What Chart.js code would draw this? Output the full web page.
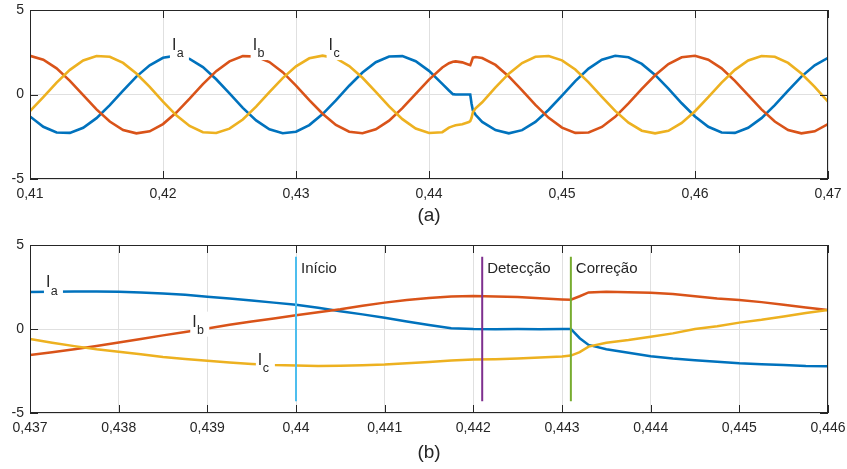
<!DOCTYPE html>
<html>
<head>
<meta charset="utf-8">
<script src="https://cdn.jsdelivr.net/npm/chart.js@4.4.1/dist/chart.umd.min.js"></script>
<style>
  body { margin: 0; background: #fff; }
  #wrap { position: relative; width: 847px; height: 469px; }
  #topChart { position: absolute; left: 0; top: 0; }
  #zoomChart { position: absolute; left: 0; top: 232px; }
</style>
</head>
<body>
<div id="wrap">
  <canvas id="topChart" width="847" height="232"></canvas>
  <canvas id="zoomChart" width="847" height="237"></canvas>
</div>
<script>
// (a) full window, 0.41 .. 0.47 s
const topTime = [
  0.410, 0.411, 0.412, 0.413, 0.414, 0.415, 0.416, 0.417, 0.418, 0.419,
  0.420, 0.421, 0.422, 0.423, 0.424, 0.425, 0.426, 0.427, 0.428, 0.429,
  0.430, 0.431, 0.432, 0.433, 0.434, 0.435, 0.436, 0.437, 0.438, 0.439,
  0.440, 0.441,
  0.4415, 0.4418, 0.442, 0.4425, 0.443, 0.4431, 0.4432, 0.4433, 0.4435, 0.444,
  0.445, 0.446, 0.447, 0.448, 0.449,
  0.450, 0.451, 0.452, 0.453, 0.454, 0.455, 0.456, 0.457, 0.458, 0.459,
  0.460, 0.461, 0.462, 0.463, 0.464, 0.465, 0.466, 0.467, 0.468, 0.469, 0.470
];
const topIa = [
  -1.30, -1.91, -2.25, -2.27, -1.97, -1.40, -0.63, 0.23, 1.06, 1.73,
  2.17, 2.30, 2.11, 1.62, 0.90, 0.06, -0.79, -1.53, -2.06, -2.29,
  -2.20, -1.81, -1.16, -0.35, 0.52, 1.30, 1.91, 2.25, 2.27, 1.97,
  1.40, 0.63,
  0.24, 0.02, 0.00, 0.00, 0.00, 0.00, -0.55, -0.95, -1.20, -1.62,
  -2.10, -2.30, -2.11, -1.62, -0.90,
  -0.06, 0.79, 1.53, 2.06, 2.29, 2.20, 1.81, 1.16, 0.35, -0.52,
  -1.30, -1.91, -2.25, -2.27, -1.97, -1.40, -0.63, 0.23, 1.06, 1.73, 2.17
];
const topIb = [
  2.29, 2.06, 1.55, 0.81, -0.04, -0.88, -1.60, -2.10, -2.30, -2.18,
  -1.75, -1.07, -0.25, 0.61, 1.38, 1.96, 2.27, 2.25, 1.92, 1.32,
  0.53, -0.33, -1.14, -1.80, -2.20, -2.29, -2.06, -1.55, -0.81, 0.04,
  0.88, 1.60,
  1.85, 1.94, 1.96, 1.90, 1.76, 1.74, 1.95, 2.18, 2.22, 2.16,
  1.75, 1.07, 0.25, -0.61, -1.38,
  -1.96, -2.27, -2.25, -1.92, -1.32, -0.53, 0.33, 1.14, 1.80, 2.20,
  2.29, 2.06, 1.55, 0.81, -0.04, -0.88, -1.60, -2.10, -2.30, -2.18, -1.75
];
const topIc = [
  -0.99, -0.15, 0.70, 1.46, 2.01, 2.28, 2.23, 1.87, 1.24, 0.45,
  -0.42, -1.23, -1.86, -2.23, -2.28, -2.02, -1.48, -0.72, 0.14, 0.97,
  1.67, 2.14, 2.30, 2.15, 1.68, 0.99, 0.15, -0.70, -1.46, -2.01,
  -2.28, -2.23,
  -1.96, -1.87, -1.82, -1.76, -1.63, -1.58, -1.38, -1.05, -0.82, -0.46,
  0.42, 1.23, 1.86, 2.23, 2.28,
  2.02, 1.48, 0.72, -0.14, -0.97, -1.67, -2.14, -2.30, -2.15, -1.68,
  -0.99, -0.15, 0.70, 1.46, 2.01, 2.28, 2.23, 1.87, 1.24, 0.45, -0.42
];
const topTicks = [0.41, 0.42, 0.43, 0.44, 0.45, 0.46, 0.47];

// (b) zoom around the fault, 0.437 .. 0.446 s
const zoomTime = [
  0.437, 0.43725, 0.4375, 0.43775, 0.438, 0.43825, 0.4385, 0.43875, 0.439, 0.43925,
  0.4395, 0.43975, 0.440, 0.44025, 0.4405, 0.44075, 0.441, 0.44125, 0.4415, 0.44175,
  0.442, 0.44225, 0.4425, 0.44275, 0.443,
  0.4431, 0.4432, 0.4433, 0.4435,
  0.44375, 0.444, 0.44425, 0.4445, 0.44475, 0.445, 0.44525, 0.4455, 0.44575, 0.446
];
const zoomIa = [
  2.20, 2.22, 2.23, 2.23, 2.22, 2.18, 2.12, 2.04, 1.92, 1.82,
  1.70, 1.57, 1.44, 1.26, 1.06, 0.87, 0.67, 0.45, 0.24, 0.04,
  0.00, -0.01, 0.00, -0.01, 0.00,
  0.00, -0.55, -0.95, -1.20,
  -1.42, -1.62, -1.76, -1.86, -1.95, -2.04, -2.10, -2.15, -2.20, -2.22
];
const zoomIb = [
  -1.55, -1.38, -1.20, -1.01, -0.81, -0.60, -0.38, -0.18, 0.03, 0.25,
  0.45, 0.63, 0.82, 1.00, 1.17, 1.38, 1.57, 1.72, 1.85, 1.94,
  1.96, 1.93, 1.90, 1.83, 1.76,
  1.74, 1.95, 2.18, 2.22,
  2.19, 2.16, 2.08, 1.95, 1.82, 1.73, 1.60, 1.45, 1.28, 1.13
];
const zoomIc = [
  -0.60, -0.82, -1.02, -1.20, -1.35, -1.50, -1.66, -1.78, -1.89, -1.99,
  -2.08, -2.15, -2.18, -2.20, -2.19, -2.16, -2.12, -2.04, -1.96, -1.87,
  -1.82, -1.80, -1.76, -1.70, -1.63,
  -1.58, -1.38, -1.05, -0.82,
  -0.66, -0.46, -0.26, 0.00, 0.16, 0.38, 0.55, 0.75, 0.95, 1.13
];
const zoomTicks = [0.437, 0.438, 0.439, 0.440, 0.441, 0.442, 0.443, 0.444, 0.445, 0.446];

// event markers in (b)
const eventTimes = [0.440, 0.4421, 0.4431];
const eventNames = ['Início', 'Detecção', 'Correção'];
const eventSpan = [-4.3, 4.3];

const yTicks = [-5, 0, 5];
const phaseNames = ['a', 'b', 'c'];

const FONT = '"Liberation Sans", Arial, Helvetica, sans-serif';
const INK = '#262626';
const phaseColors = ['#0072BD', '#D95319', '#EDB120'];
const eventColors = ['#4DBEEE', '#7E2F8E', '#77AC30'];

Chart.defaults.font.family = FONT;
Chart.defaults.color = INK;

function toPoints(xs, ys) {
  return xs.map((x, i) => ({ x: x, y: ys[i] }));
}

function phaseSets(xs, series, width) {
  return series.map((ys, i) => ({
    label: 'I' + phaseNames[i],
    data: toPoints(xs, ys),
    borderColor: phaseColors[i],
    borderWidth: width,
    pointRadius: 0,
    tension: 0,
    order: 3 - i
  }));
}

function fmtTick(v) {
  return String(Number(v.toFixed(3))).replace('.', ',');
}

// draws phase labels, event labels, the axes box with inward ticks and the caption
const decor = {
  id: 'decor',
  afterDatasetsDraw(chart, args, opts) {
    const ctx = chart.ctx;
    const a = chart.chartArea;
    const xs = chart.scales.x;
    const ys = chart.scales.y;
    ctx.save();

    (opts.labels || []).forEach((l) => {
      const px = xs.getPixelForValue(l.x);
      const py = ys.getPixelForValue(l.y);
      ctx.fillStyle = '#fff';
      ctx.fillRect(px - 2, py - 15, 19, 25);
      ctx.fillStyle = INK;
      ctx.textAlign = 'left';
      ctx.textBaseline = 'alphabetic';
      ctx.font = '16px ' + FONT;
      ctx.fillText('I', px, py);
      ctx.font = '12.5px ' + FONT;
      ctx.fillText(l.sub, px + 4.8, py + 7.3);
    });

    (opts.events || []).forEach((e) => {
      const px = xs.getPixelForValue(e.x);
      const py = ys.getPixelForValue(e.y);
      ctx.fillStyle = INK;
      ctx.textAlign = 'left';
      ctx.textBaseline = 'alphabetic';
      ctx.font = '15px ' + FONT;
      ctx.fillText(e.text, px + 5, py);
    });

    ctx.strokeStyle = INK;
    ctx.lineWidth = 1;
    ctx.strokeRect(a.left + 0.5, a.top + 0.5, a.right - a.left - 1, a.bottom - a.top - 1);
    ctx.beginPath();
    xs.ticks.forEach((t) => {
      const p = Math.round(xs.getPixelForValue(t.value)) + 0.5;
      ctx.moveTo(p, a.top); ctx.lineTo(p, a.top + 8);
      ctx.moveTo(p, a.bottom); ctx.lineTo(p, a.bottom - 8);
    });
    ys.ticks.forEach((t) => {
      const p = Math.round(ys.getPixelForValue(t.value)) + 0.5;
      ctx.moveTo(a.left, p); ctx.lineTo(a.left + 8, p);
      ctx.moveTo(a.right, p); ctx.lineTo(a.right - 8, p);
    });
    ctx.stroke();

    ctx.fillStyle = INK;
    ctx.font = '19px ' + FONT;
    ctx.textAlign = 'center';
    ctx.textBaseline = 'middle';
    ctx.fillText(opts.caption, (a.left + a.right) / 2, a.bottom + opts.captionGap);
    ctx.restore();
  }
};

function makeOptions(xMin, xMax, xTicks, padTop, axisHeight, decorOpts) {
  return {
    responsive: false,
    animation: false,
    layout: { padding: { top: padTop, right: 19, left: 0, bottom: 0 } },
    plugins: { legend: { display: false }, tooltip: { enabled: false }, decor: decorOpts },
    scales: {
      x: {
        type: 'linear',
        min: xMin,
        max: xMax,
        afterBuildTicks: (s) => { s.ticks = xTicks.map((v) => ({ value: v })); },
        afterFit: (s) => { s.height = axisHeight; s.paddingLeft = 0; s.paddingRight = 0; },
        ticks: { callback: fmtTick, font: { size: 14 }, padding: 7, maxRotation: 0, autoSkip: false },
        grid: { color: '#e0e0e0', drawTicks: false },
        border: { display: false }
      },
      y: {
        min: -5,
        max: 5,
        afterBuildTicks: (s) => { s.ticks = yTicks.map((v) => ({ value: v })); },
        afterFit: (s) => { s.width = 30; s.paddingTop = 0; s.paddingBottom = 0; },
        ticks: { font: { size: 14 }, padding: 6 },
        grid: { color: '#e0e0e0', drawTicks: false },
        border: { display: false }
      }
    }
  };
}

new Chart(document.getElementById('topChart'), {
  type: 'line',
  data: { datasets: phaseSets(topTime, [topIa, topIb, topIc], 2.6) },
  options: makeOptions(0.41, 0.47, topTicks, 10, 53, {
    caption: '(a)',
    captionGap: 37,
    labels: [
      { x: 0.42067, y: 2.63, sub: 'a' },
      { x: 0.42674, y: 2.63, sub: 'b' },
      { x: 0.43245, y: 2.63, sub: 'c' }
    ]
  }),
  plugins: [decor]
});

const eventSets = eventTimes.map((t, i) => ({
  label: eventNames[i],
  data: eventSpan.map((v) => ({ x: t, y: v })),
  borderColor: eventColors[i],
  borderWidth: 2,
  pointRadius: 0,
  order: 0
}));

new Chart(document.getElementById('zoomChart'), {
  type: 'line',
  data: { datasets: phaseSets(zoomTime, [zoomIa, zoomIb, zoomIc], 2.5).concat(eventSets) },
  options: makeOptions(0.437, 0.446, zoomTicks, 13, 56, {
    caption: '(b)',
    captionGap: 40,
    labels: [
      { x: 0.43718, y: 2.48, sub: 'a' },
      { x: 0.43883, y: 0.14, sub: 'b' },
      { x: 0.43957, y: -2.14, sub: 'c' }
    ],
    events: eventTimes.map((t, i) => ({ x: t, y: 3.33, text: eventNames[i] }))
  }),
  plugins: [decor]
});
</script>
</body>
</html>
